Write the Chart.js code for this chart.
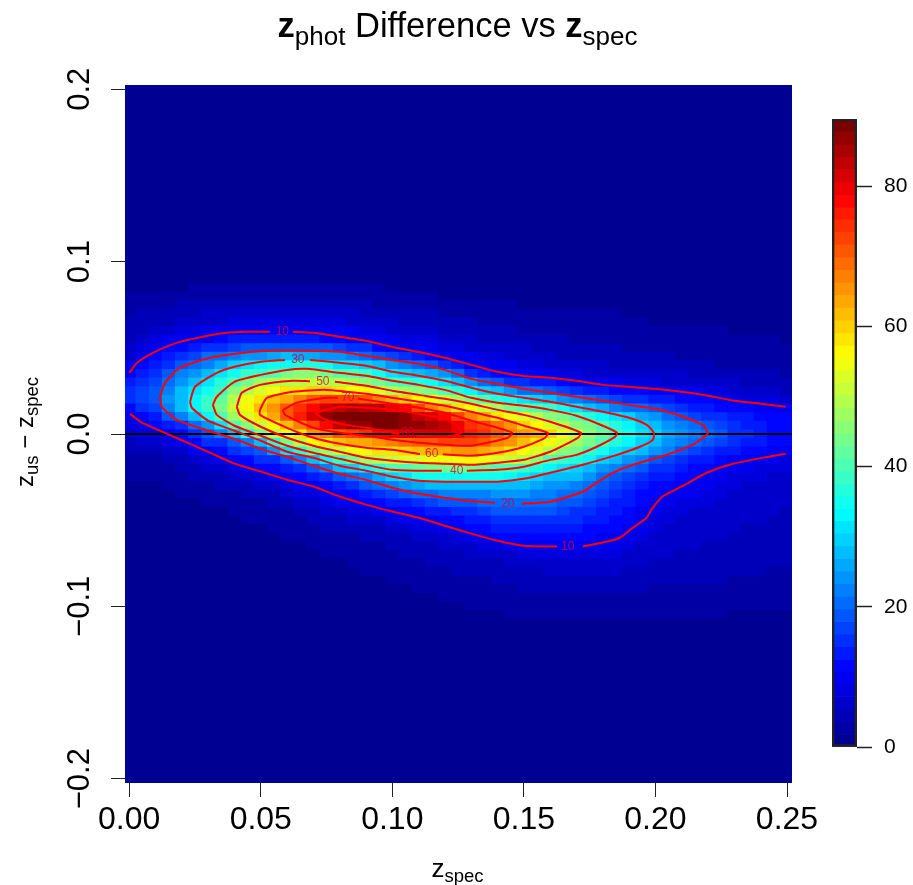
<!DOCTYPE html>
<html>
<head>
<meta charset="utf-8">
<title>zphot Difference vs zspec</title>
<script src="https://cdn.jsdelivr.net/npm/chart.js@4"></script>
<style>
  html, body { margin: 0; padding: 0; background: #fff; }
  #page { position: relative; width: 913px; height: 885px; overflow: hidden; font-family: "Liberation Sans", Arial, sans-serif; color: #000; }
  canvas { position: absolute; display: block; }
  .txt { position: absolute; white-space: nowrap; line-height: 1; }
  .txt sub { line-height: 0; vertical-align: baseline; position: relative; }
  #title { left: 0; width: 915px; text-align: center; top: 8px; font-size: 34.5px; }
  #title b { font-weight: bold; }
  #title sub { font-size: 26px; top: 8px; }
  #xlabel { left: 0; width: 915px; text-align: center; top: 855px; font-size: 26px; }
  #xlabel sub, #ylabel sub { font-size: 18.5px; top: 5px; }
  #ylabel { left: 25px; top: 432px; font-size: 24px; transform: translate(-50%, -50%) rotate(-90deg); }
</style>
</head>
<body>
<div id="page">
  <canvas id="heatChart" width="913" height="885" style="left:0;top:0"></canvas>
  <canvas id="barChart" width="100" height="670" style="left:813px;top:100px"></canvas>
  <div class="txt" id="title"><b>z</b><sub>phot</sub> Difference vs <b>z</b><sub>spec</sub></div>
  <div class="txt" id="xlabel">z<sub>spec</sub></div>
  <div class="txt" id="ylabel">z<sub>us</sub> &minus; z<sub>spec</sub></div>
</div>
<script>
// cell centres of the density image
const xCenters = [0,.005,.01,.015,.02,.025,.03,.035,.04,.045,.05,.055,.06,.065,.07,.075,.08,.085,.09,.095,.1,.105,.11,.115,.12,.125,.13,.135,.14,.145,.15,.155,.16,.165,.17,.175,.18,.185,.19,.195,.2,.205,.21,.215,.22,.225,.23,.235,.24,.245,.25];
const yCenters = [.085,.08,.075,.07,.065,.06,.055,.05,.045,.04,.035,.03,.025,.02,.015,.01,.005,0,-.005,-.01,-.015,-.02,-.025,-.03,-.035,-.04,-.045,-.05,-.055,-.06,-.065,-.07,-.075,-.08,-.085,-.09,-.095,-.1,-.105,-.11,-.115];

// density, one line per x, top to bottom
const density = [
[1,2,3,3,4,5,5,6,7,9,10,13,15,15,12,9,8,7,5,4,3,2,2,1,1,1,1,1,1,1,1,1,1,1,1,1,1,1,1,1,1],
[1,2,3,4,4,5,6,8,9,11,13,15,17,17,15,12,9,8,6,4,3,3,2,1,1,1,1,1,1,1,1,1,1,1,1,1,1,1,1,1,1],
[1,2,3,4,5,6,8,9,11,13,15,17,19,19,17,14,11,8,6,5,3,3,2,1,1,1,1,1,1,1,1,1,1,1,1,1,1,1,1,1,1],
[1,2,3,4,5,7,9,11,14,16,19,21,23,24,22,19,14,10,8,6,4,3,2,2,1,1,1,1,1,1,1,1,1,1,1,1,1,1,1,1,1],
[1,2,4,5,6,8,9,12,15,19,22,25,27,28,27,23,16,12,9,7,5,4,3,2,2,1,1,1,1,1,1,1,1,1,1,1,1,1,1,1,1],
[2,3,4,5,7,8,10,13,17,21,25,28,31,33,33,28,20,15,11,9,6,5,4,3,2,1,1,1,1,1,1,1,1,1,1,1,1,1,1,1,1],
[2,3,4,6,7,9,10,15,20,23,28,32,35,38,38,33,25,18,15,10,8,6,4,3,2,2,1,1,1,1,1,1,1,1,1,1,1,1,1,1,1],
[2,3,4,6,7,9,11,16,21,26,31,36,39,42,44,40,32,22,16,12,9,7,5,4,3,2,1,1,1,1,1,1,1,1,1,1,1,1,1,1,1],
[2,3,5,6,8,9,13,17,22,29,35,40,46,50,51,47,40,27,18,15,11,8,6,4,3,2,2,1,1,1,1,1,1,1,1,1,1,1,1,1,1],
[2,3,5,7,8,10,14,18,24,31,38,44,50,54,56,52,46,35,22,17,12,9,7,5,4,3,2,2,1,1,1,1,1,1,1,1,1,1,1,1,1],
[2,3,5,7,8,10,14,18,25,33,39,47,53,58,61,58,51,44,28,19,15,11,8,6,4,3,2,2,1,1,1,1,1,1,1,1,1,1,1,1,1],
[2,3,5,7,8,10,14,18,26,34,41,49,55,61,66,64,57,50,36,25,16,12,10,7,5,4,3,2,2,1,1,1,1,1,1,1,1,1,1,1,1],
[2,3,5,7,8,10,14,18,27,35,44,50,58,64,71,70,62,54,43,31,18,14,11,8,7,5,3,3,2,2,1,1,1,1,1,1,1,1,1,1,1],
[2,3,5,7,8,10,14,18,26,36,45,50,59,67,74,76,67,59,49,37,23,16,12,9,8,6,4,3,2,2,1,1,1,1,1,1,1,1,1,1,1],
[2,3,5,7,8,10,13,18,26,36,45,51,60,70,78,81,72,66,57,44,27,18,14,10,8,7,5,4,3,2,2,1,1,1,1,1,1,1,1,1,1],
[2,3,5,7,8,10,12,18,25,34,43,50,60,72,82,86,78,68,59,47,33,22,16,12,10,8,6,5,4,3,2,2,1,1,1,1,1,1,1,1,1],
[2,3,4,6,8,9,11,17,24,32,41,49,59,73,84,88,84,70,61,51,39,27,18,14,11,9,7,5,4,3,2,2,1,1,1,1,1,1,1,1,1],
[2,3,4,6,7,9,10,16,22,31,40,47,57,72,85,88,86,72,63,54,43,30,21,16,12,10,8,6,4,3,3,2,2,1,1,1,1,1,1,1,1],
[2,3,4,5,7,8,10,15,21,29,38,46,56,71,84,89,87,75,64,57,48,33,23,18,14,11,8,7,5,4,3,3,2,2,1,1,1,1,1,1,1],
[2,2,3,5,6,8,9,12,19,27,34,43,53,67,83,89,88,78,66,58,49,37,26,20,15,12,9,7,5,4,3,3,2,2,1,1,1,1,1,1,1],
[1,2,3,4,6,7,9,10,17,25,31,41,50,63,80,88,88,80,68,59,51,41,30,22,17,13,10,8,6,5,4,3,3,2,2,1,1,1,1,1,1],
[1,2,3,4,5,7,8,10,15,23,30,39,48,60,77,86,87,81,69,60,52,41,32,24,18,14,11,9,7,5,4,4,3,2,2,1,1,1,1,1,1],
[1,2,3,4,5,6,8,9,14,21,28,37,46,57,72,84,87,82,70,62,53,42,34,26,20,16,12,9,8,6,5,4,3,3,2,2,1,1,1,1,1],
[1,2,3,4,5,6,8,9,12,18,26,34,43,54,67,82,85,82,71,63,54,43,34,27,21,17,13,10,8,7,5,4,4,3,2,2,1,1,1,1,1],
[1,1,2,3,4,5,7,8,10,16,24,31,41,51,63,78,83,81,72,64,55,44,35,28,22,18,14,11,9,7,6,5,4,3,3,2,2,1,1,1,1],
[1,1,2,3,4,5,6,8,9,13,20,27,37,47,59,72,79,79,72,65,55,44,35,28,22,18,15,12,10,8,6,5,4,4,3,2,2,1,1,1,1],
[1,1,2,3,4,4,6,7,9,10,16,24,33,43,55,67,74,76,72,65,56,44,35,28,23,19,16,13,11,9,7,6,4,4,3,3,2,2,1,1,1],
[1,1,2,3,3,4,5,7,8,10,13,21,30,40,51,63,72,74,70,63,54,42,34,28,23,20,17,14,12,10,8,6,5,4,3,3,2,2,1,1,1],
[1,1,2,2,3,4,5,6,8,9,11,18,27,37,47,59,69,71,67,61,53,41,34,28,24,21,18,15,13,11,8,7,5,4,4,3,3,2,1,1,1],
[1,1,2,2,3,4,5,6,7,9,11,16,24,34,44,55,65,68,65,59,51,40,33,27,24,21,18,16,13,11,9,7,6,5,4,3,3,2,2,1,1],
[1,1,1,2,3,3,4,6,7,8,10,15,21,32,42,52,60,65,62,57,50,39,31,27,24,20,18,16,14,12,10,8,6,5,4,4,3,3,2,1,1],
[1,1,1,2,3,3,4,5,6,8,9,14,20,30,40,49,57,63,59,53,45,36,30,26,23,20,18,16,14,12,10,8,7,5,4,4,3,3,2,1,1],
[1,1,1,2,2,3,4,5,6,7,9,13,19,28,38,46,53,60,55,50,40,33,28,25,22,20,18,16,14,12,10,8,7,6,5,4,3,3,2,1,1],
[1,1,1,2,2,3,4,4,5,7,8,11,17,25,34,43,50,55,52,46,38,31,27,24,21,19,17,15,14,12,10,8,7,6,5,4,3,3,2,1,1],
[1,1,1,2,2,3,3,4,5,6,8,10,16,23,31,40,46,51,48,43,36,30,27,23,20,18,16,15,13,12,10,8,7,6,5,4,3,3,2,1,1],
[1,1,1,2,2,3,3,4,5,6,7,9,14,21,28,36,43,46,44,39,33,27,24,21,19,17,15,14,12,11,10,8,7,6,5,4,3,3,2,1,1],
[1,1,1,2,2,2,3,4,5,6,7,9,13,19,26,33,40,42,40,35,30,25,21,19,17,15,14,13,12,10,9,8,7,6,5,4,3,3,2,1,1],
[1,1,1,2,2,2,3,4,4,5,7,9,12,17,23,31,36,38,36,32,27,23,19,17,15,14,13,12,11,10,9,8,7,6,5,4,3,3,2,1,1],
[1,1,1,1,2,2,3,3,4,5,7,8,11,16,21,29,33,35,33,30,25,21,17,16,14,13,12,11,10,9,8,7,6,5,5,4,3,2,2,1,1],
[1,1,1,1,2,2,2,3,4,5,6,8,11,15,20,26,30,32,30,27,22,18,15,13,12,11,10,9,9,8,7,7,6,5,4,4,3,2,2,1,1],
[1,1,1,1,1,2,2,3,4,5,6,8,10,14,19,24,27,29,28,25,19,16,14,12,11,10,9,8,8,7,7,6,5,5,4,3,3,2,2,1,1],
[1,1,1,1,1,2,2,3,4,5,6,7,10,13,17,21,25,26,25,22,17,15,13,11,10,9,8,8,7,7,6,6,5,4,4,3,3,2,2,1,1],
[1,1,1,1,1,2,2,3,3,4,6,7,9,12,15,19,23,24,22,19,16,14,12,10,9,8,8,7,7,6,6,5,5,4,4,3,3,2,2,1,1],
[1,1,1,1,1,2,2,2,3,4,5,7,9,11,14,17,21,22,20,17,14,12,11,9,9,8,7,7,6,6,6,5,5,4,4,3,3,2,2,1,1],
[1,1,1,1,1,2,2,2,3,4,5,6,8,11,13,16,19,20,19,16,13,11,10,9,8,8,7,7,6,6,5,5,5,4,4,3,3,2,2,1,1],
[1,1,1,1,1,2,2,2,3,3,5,6,8,10,12,15,17,18,17,14,11,10,9,8,8,7,7,6,6,6,5,5,4,4,4,3,3,2,2,1,1],
[1,1,1,1,1,1,2,2,3,3,4,6,7,9,11,14,15,16,15,13,10,9,8,8,7,7,6,6,6,5,5,5,4,4,3,3,2,2,1,1,1],
[1,1,1,1,1,1,2,2,2,3,4,5,7,8,11,13,14,15,14,12,10,9,8,7,7,6,6,6,5,5,5,5,4,4,3,3,2,2,1,1,1],
[1,1,1,1,1,1,2,2,2,3,4,5,6,8,10,12,13,13,13,11,9,8,8,7,7,6,6,6,5,5,5,4,4,4,3,3,2,2,1,1,1],
[1,1,1,1,1,1,2,2,2,3,4,5,6,8,10,11,12,12,12,10,9,8,7,7,6,6,6,5,5,5,4,4,4,3,3,3,2,2,1,1,1],
[1,1,1,1,1,1,1,2,2,3,3,4,5,7,9,11,12,12,11,10,8,8,7,7,6,6,5,5,5,5,4,4,4,3,3,2,2,2,1,1,1]
];

const xTickValues = [0, 0.05, 0.1, 0.15, 0.2, 0.25];
const yTickValues = [-0.2, -0.1, 0, 0.1, 0.2];
const barTickValues = [0, 20, 40, 60, 80];
const barEdges = [0,1.8,3.6,5.4,7.2,9,10.8,12.5,14.3,16.1,17.9,19.7,21.5,23.3,25.1,26.9,28.7,30.5,32.3,34,35.8,37.6,39.4,41.2,43,44.8,46.6,48.4,50.2,52,53.8,55.5,57.3,59.1,60.9,62.7,64.5,66.3,68.1,69.9,71.7,73.5,75.3,77,78.8,80.6,82.4,84.2,86,87.8,89.6];
const zMax = 89.6;

// contour lines, [x, y] in data units, null = gap left for the label
const contour10a = [[0,.0355],[.003,.0413],[.009,.0471],[.018,.0529],[.028,.0564],[.037,.0587],[.045,.0593],[.0535,.0593],null,[.0622,.0593],[.07,.0587],[.08,.0564],[.09,.0541],[.1,.0505],[.11,.0476],[.12,.0442],[.13,.0401],[.14,.0361],[.15,.0337],[.16,.0326],[.17,.0309],[.18,.0285],[.19,.0274],[.2,.0262],[.21,.0245],[.22,.0222],[.23,.0193],[.24,.0176],[.2495,.0158]];
const contour10b = [[.0003,.0117],[.005,.0064],[.018,-.0023],[.03,-.0104],[.04,-.0172],[.05,-.0218],[.06,-.0265],[.07,-.0305],[.08,-.0363],[.09,-.041],[.1,-.045],[.11,-.0486],[.12,-.0532],[.13,-.0578],[.14,-.0619],[.15,-.0648],[.1626,-.0653],null,[.1724,-.0653],[.18,-.063],[.1865,-.0602],[.1914,-.0544],[.1967,-.0486],[.1984,-.044],[.2026,-.0364],[.2105,-.03],[.2195,-.0225],[.2295,-.0173],[.2425,-.0133],[.2495,-.0114]];
const contour20 = [[.0117,.0216],[.0136,.0297],[.0193,.0384],[.0307,.0442],[.0433,.0471],[.0524,.0483],[.0722,.0483],[.08,.0477],[.09,.0454],[.1,.043],[.11,.0407],[.12,.0372],[.13,.032],[.14,.0291],[.15,.0262],[.16,.0239],[.17,.0216],[.18,.0193],[.19,.0169],[.2,.0146],[.2105,.01],[.218,.0052],[.2199,.0006],[.2195,-.0004],[.2142,-.0062],[.2044,-.012],[.1915,-.0178],[.1838,-.0225],[.1777,-.0282],[.1724,-.0335],[.16,-.0393],[.1492,-.0404],null,[.139,-.0399],[.1283,-.0387],[.12,-.037],[.11,-.0347],[.1,-.0312],[.09,-.0266],[.08,-.0231],[.07,-.0184],[.06,-.0132],[.05,-.0086],[.04,-.0028],[.03,.0019],[.0181,.0082],[.0124,.0158],[.0117,.0216]];
const contour30 = [[.0231,.0187],[.025,.0274],[.0333,.0355],[.04,.039],[.05,.0419],[.0592,.043],null,[.0687,.043],[.08,.0413],[.09,.0396],[.1,.0361],[.11,.0338],[.12,.0309],[.13,.0268],[.14,.0233],[.15,.021],[.16,.0187],[.17,.0158],[.18,.0129],[.19,.0094],[.1967,.0053],[.1994,.0007],[.199,-.0034],[.1941,-.0074],[.1854,-.0121],[.1724,-.0178],[.16,-.0225],[.15,-.026],[.14,-.0277],[.13,-.0277],[.12,-.0277],[.11,-.0271],[.1,-.0248],[.09,-.0213],[.08,-.0184],[.07,-.0138],[.06,-.0103],[.05,-.0039],[.04,.0019],[.03,.0077],[.0238,.0152],[.0231,.0187]];
const contour40 = [[.0318,.0169],[.0333,.0216],[.04,.0303],[.05,.0343],[.06,.0372],[.0675,.0378],[.08,.0355],[.09,.0338],[.1,.0309],[.11,.0285],[.12,.0256],[.13,.021],[.14,.0181],[.15,.0164],[.16,.014],[.17,.0106],[.18,.0048],[.1854,.0007],[.1846,-.0017],[.1777,-.0074],[.17,-.0121],[.16,-.015],[.15,-.019],[.14,-.0208],[.1283,-.0213],null,[.1188,-.0213],[.11,-.0213],[.1,-.0208],[.09,-.0179],[.08,-.0144],[.07,-.0109],[.06,-.0068],[.05,-.001],[.04,.0048],[.0333,.0111],[.0318,.0169]];
const contour50 = [[.0409,.0158],[.0428,.0239],[.0497,.0285],[.0622,.0309],[.0687,.0306],null,[.0782,.0303],[.09,.028],[.1,.0251],[.11,.0227],[.12,.0204],[.13,.0175],[.14,.014],[.15,.0111],[.16,.0071],[.1717,.0007],[.1705,-.0022],[.16,-.0103],[.15,-.015],[.14,-.0167],[.13,-.0179],[.12,-.0173],[.11,-.0167],[.1,-.0155],[.09,-.0138],[.08,-.0103],[.07,-.0068],[.06,-.0022],[.05,.0042],[.0421,.0111],[.0409,.0158]];
const contour60 = [[.0497,.014],[.0523,.021],[.0622,.0245],[.0751,.0256],[.09,.0233],[.1,.021],[.11,.0187],[.12,.0164],[.13,.0129],[.14,.0094],[.15,.0048],[.1591,.0007],[.158,-.0022],[.15,-.0074],[.14,-.0109],[.13,-.0126],[.1192,-.0118],null,[.1105,-.0116],[.1,-.0092],[.09,-.008],[.08,-.0057],[.07,-.0022],[.06,.0036],[.0497,.0111],[.0497,.014]];
const contour70 = [[.0584,.014],[.0637,.0181],[.0751,.021],[.0793,.021],null,[.087,.0205],[.09,.0198],[.1,.0175],[.11,.0152],[.12,.0123],[.13,.0077],[.14,.0036],[.1455,.0007],[.1439,-.0022],[.13,-.0068],[.12,-.0062],[.11,-.0051],[.1,-.0034],[.09,-.001],[.08,.0007],[.07,.0036],[.0592,.0111],[.0584,.014]];
const contour80 = [[.0706,.0123],[.08,.0158],[.09,.0152],[.1,.014],[.11,.0117],[.12,.0088],[.125,.004],[.1264,.0007],[.12,-.0016],[.109,-.001],null,[.1028,-.0002],[.1,.0007],[.09,.0036],[.08,.0059],[.0736,.009],[.0706,.0123]];
const contourLines = [contour10a, contour10b, contour20, contour30, contour40, contour50, contour60, contour70, contour80];
const zeroLine = [[-0.0016, 0], [0.2519, 0]];

const labelTexts = ['10', '30', '50', '70', '80', '60', '40', '20', '10'];
const labelX = [.0582, .0641, .0736, .0831, .1059, .115, .1245, .1439, .1667];
const labelY = [.0593, .043, .0303, .021, .0005, -.0116, -.0213, -.0402, -.0653];

const colorStops = [[0, [0, 0, 136]], [.125, [0, 0, 255]], [.375, [0, 255, 255]], [.625, [255, 255, 0]], [.875, [255, 0, 0]], [1, [112, 0, 0]]];

// same stepped palette as the colour bar
function levelColor(value) {
    let level = 0;
    while (level < barEdges.length - 2 && value >= barEdges[level + 1]) level++;
    const t = (level + 0.5) / (barEdges.length - 1);
    let k = 0;
    while (k < colorStops.length - 2 && t > colorStops[k + 1][0]) k++;
    const [t0, c0] = colorStops[k];
    const [t1, c1] = colorStops[k + 1];
    const f = (t - t0) / (t1 - t0);
    const rgb = c0.map((c, i) => Math.round(c + (c1[i] - c) * f));
    return `rgb(${rgb.join(',')})`;
}

const fontName = '"Liberation Sans", Arial, sans-serif';

const heatPoints = [];
const heatColors = [];
xCenters.forEach((x, i) => {
    yCenters.forEach((y, j) => {
        heatPoints.push({ x: x, y: [y - 0.0025, y + 0.0025] });
        heatColors.push(levelColor(density[i][j]));
    });
});

function toPoints(pairs) {
    return pairs.map(p => (p ? { x: p[0], y: p[1] } : { x: NaN, y: NaN }));
}

// dark background for everything outside the cells
const plotBackground = {
    id: 'plotBackground',
    beforeDatasetsDraw(chart) {
        const { ctx, chartArea: a } = chart;
        ctx.save();
        ctx.fillStyle = levelColor(0);
        ctx.fillRect(a.left, a.top, a.width, a.height);
        ctx.restore();
    }
};

// numbers sitting in the gaps of the contour lines
const contourLabels = {
    id: 'contourLabels',
    afterDatasetsDraw(chart) {
        const { ctx, scales } = chart;
        ctx.save();
        ctx.font = `12px ${fontName}`;
        ctx.fillStyle = 'rgba(215,0,50,0.8)';
        ctx.textAlign = 'center';
        ctx.textBaseline = 'middle';
        labelTexts.forEach((text, i) => {
            ctx.fillText(text, scales.x.getPixelForValue(labelX[i]), scales.y.getPixelForValue(labelY[i]));
        });
        ctx.restore();
    }
};

new Chart(document.getElementById('heatChart'), {
    type: 'bar',
    data: {
        datasets: [
            ...contourLines.map(line => ({
                type: 'line',
                data: toPoints(line),
                borderColor: '#ff0000',
                borderWidth: 2,
                pointRadius: 0,
                tension: 0.2,
                spanGaps: false,
                order: 1
            })),
            {
                type: 'line',
                data: toPoints(zeroLine),
                borderColor: '#000',
                borderWidth: 2,
                pointRadius: 0,
                order: 2
            },
            {
                data: heatPoints,
                backgroundColor: heatColors,
                borderWidth: 0,
                barPercentage: 1,
                categoryPercentage: 1,
                order: 3
            }
        ]
    },
    options: {
        responsive: false,
        animation: false,
        events: [],
        layout: { padding: { left: 0, top: 85, right: 121, bottom: 0 } },
        plugins: { legend: { display: false }, tooltip: { enabled: false } },
        scales: {
            x: {
                type: 'linear',
                offset: false,
                min: -0.0016,
                max: 0.2519,
                afterBuildTicks: s => { s.ticks = xTickValues.map(v => ({ value: v })); },
                afterFit: s => { s.height = 102; },
                border: { display: false },
                grid: { offset: false, drawOnChartArea: false, tickLength: 14, tickColor: '#222', tickWidth: 1 },
                ticks: {
                    autoSkip: false,
                    maxRotation: 0,
                    padding: 4,
                    color: '#000',
                    font: { family: fontName, size: 32 },
                    callback: v => v.toFixed(2)
                }
            },
            y: {
                type: 'linear',
                min: -0.2025,
                max: 0.2025,
                afterBuildTicks: s => { s.ticks = yTickValues.map(v => ({ value: v })); },
                afterFit: s => { s.width = 125; },
                border: { display: false },
                grid: { drawOnChartArea: false, tickLength: 14, tickColor: '#222', tickWidth: 1 },
                ticks: {
                    autoSkip: false,
                    minRotation: 90,
                    maxRotation: 90,
                    crossAlign: 'center',
                    padding: 0,
                    color: '#000',
                    font: { family: fontName, size: 31 },
                    callback: v => (v < 0 ? '\u2212' : '') + Math.abs(v).toFixed(1)
                }
            }
        }
    },
    plugins: [plotBackground, contourLabels]
});

// colour bar, one floating bar per level plus an empty one for the outline
const bandPoints = barEdges.slice(0, -1).map((lo, i) => ({ x: 0.5, y: [lo, barEdges[i + 1]] }));
const bandColors = bandPoints.map(p => levelColor(p.y[0]));

new Chart(document.getElementById('barChart'), {
    type: 'bar',
    data: {
        datasets: [
            {
                data: [{ x: 0.5, y: [0, zMax] }],
                backgroundColor: 'rgba(0,0,0,0)',
                borderColor: '#222',
                borderWidth: 2,
                borderSkipped: false,
                barThickness: 25,
                grouped: false,
                order: 1
            },
            {
                data: bandPoints,
                backgroundColor: bandColors,
                borderWidth: 0,
                barThickness: 25,
                grouped: false,
                order: 2
            }
        ]
    },
    options: {
        responsive: false,
        animation: false,
        events: [],
        layout: { padding: { left: 19, top: 19, right: 0, bottom: 23 } },
        plugins: { legend: { display: false }, tooltip: { enabled: false } },
        scales: {
            x: {
                type: 'linear',
                offset: false,
                min: 0,
                max: 1,
                afterFit: s => { s.height = 0; },
                border: { display: false },
                grid: { display: false },
                ticks: { display: false }
            },
            y: {
                position: 'right',
                min: 0,
                max: zMax,
                afterBuildTicks: s => { s.ticks = barTickValues.map(v => ({ value: v })); },
                afterFit: s => { s.width = 56; s.paddingTop = 0; s.paddingBottom = 0; },
                border: { display: false },
                grid: { drawOnChartArea: false, tickLength: 15, tickColor: '#222', tickWidth: 1.5 },
                ticks: {
                    padding: 12,
                    color: '#000',
                    font: { family: fontName, size: 21 }
                }
            }
        }
    }
});
</script>
</body>
</html>
